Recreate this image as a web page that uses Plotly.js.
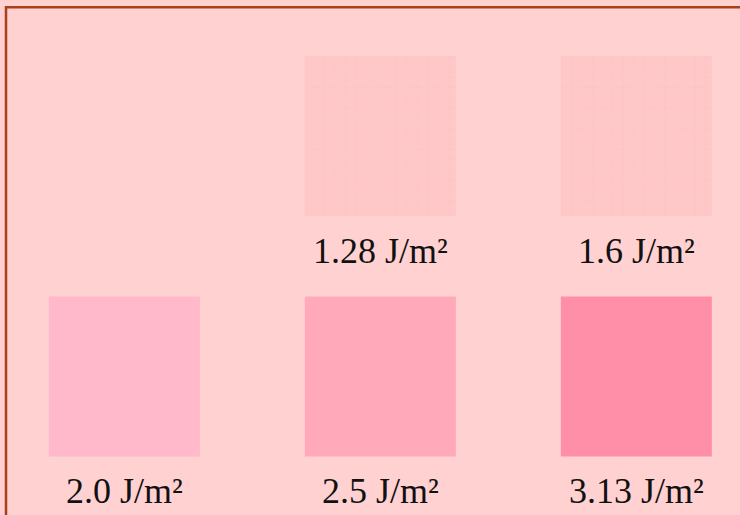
<!DOCTYPE html>
<html>
<head>
<meta charset="utf-8">
<script src="https://cdn.plot.ly/plotly-3.0.1.min.js"></script>
<style>html,body{margin:0;padding:0;background:#FFD1D1;}#chart{width:740px;height:515px;}</style>
</head>
<body>
<div id="chart"></div>
<script>
// Data
const labels = ["1.28 J/m²", "1.6 J/m²", "2.0 J/m²", "2.5 J/m²", "3.13 J/m²"];
const doses = [1.28, 1.6, 2.0, 2.5, 3.13];
const columns = [1, 2, 0, 1, 2];
const rows = [1, 1, 0, 0, 0];
const colors = ["#FFC8C8", "#FFC8C8", "#FFB9CB", "#FFA9BB", "#FF8EA9"];
const textured = [true, true, false, false, false];

const boxW = 0.59, boxH = 0.665;
const bases = rows.map(r => r - boxH / 2);
const heights = rows.map(() => boxH);

const fillTrace = {
  type: "bar",
  x: columns,
  y: heights,
  base: bases,
  width: columns.map(() => boxW),
  customdata: doses,
  marker: {color: colors, line: {width: 0}},
  hoverinfo: "skip"
};

const idx = textured.map((t, i) => t ? i : -1).filter(i => i >= 0);
const gridTrace = {
  type: "bar",
  x: idx.map(i => columns[i]),
  y: idx.map(i => heights[i]),
  base: idx.map(i => bases[i]),
  width: idx.map(() => boxW),
  marker: {
    color: "rgba(0,0,0,0)",
    line: {width: 0},
    pattern: {
      shape: "+",
      size: 10.3,
      solidity: 0.1,
      fgcolor: idx.map(() => "#FFBEBE"),
      fillmode: "replace"
    }
  },
  hoverinfo: "skip"
};

const annotations = labels.map((t, i) => ({
  x: columns[i],
  y: bases[i],
  xref: "x", yref: "y",
  text: t,
  showarrow: false,
  yanchor: "top",
  yshift: -13,
  font: {family: "Liberation Serif, Times New Roman, serif", size: 36, color: "#111111"}
}));

const layout = {
  width: 740, height: 515,
  margin: {l: 0, r: 0, t: 0, b: 0, pad: 0},
  paper_bgcolor: "#FFD1D1",
  plot_bgcolor: "#FFD1D1",
  showlegend: false,
  hovermode: false,
  barmode: "overlay",
  xaxis: {range: [-0.486, 2.405], visible: false, fixedrange: true},
  yaxis: {range: [-0.576, 1.5655], visible: false, fixedrange: true},
  annotations: annotations,
  shapes: [{
    type: "rect", xref: "paper", yref: "paper",
    x0: 6.0 / 740, x1: 1.05,
    y0: -0.05, y1: 1 - 7.2 / 515,
    line: {color: "#A8401A", width: 2.5},
    fillcolor: "rgba(0,0,0,0)",
    layer: "above"
  }]
};

Plotly.newPlot("chart", [fillTrace, gridTrace], layout, {displayModeBar: false, staticPlot: true});
</script>
</body>
</html>
